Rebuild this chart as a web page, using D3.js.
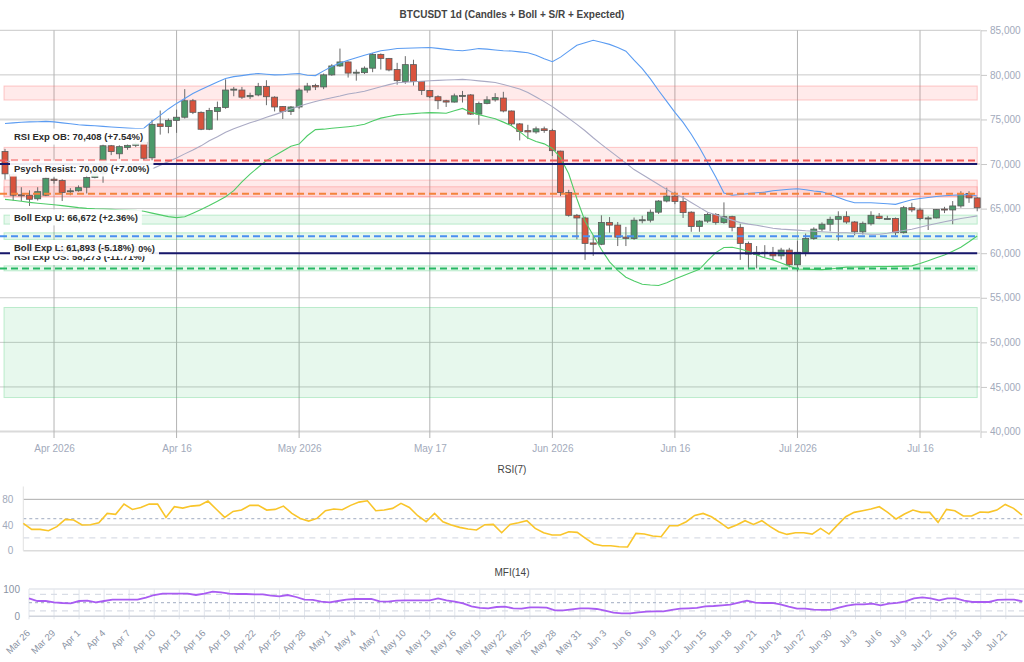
<!DOCTYPE html>
<html><head><meta charset="utf-8">
<script src="https://cdn.jsdelivr.net/npm/d3@7"></script>
<style>
body{margin:0;background:#fff;}
svg{display:block;font-family:"Liberation Sans",Arial,Helvetica,sans-serif;}
</style>
</head><body>
<svg id="chart" width="1024" height="662"></svg>
<script>
// ---------------- DATA ----------------
const startDate = "2026-03-26";
const opens  = [71400,68800,66550,66500,66100,66500,68300,68150,66900,67000,67400,68500,68900,72050,71150,71850,72100,72450,70700,74500,74200,74900,75250,77100,75800,73900,75900,76350,78300,78300,77550,77750,78700,77500,76450,75900,76400,78300,78800,78650,80000,81000,81450,80200,80250,80750,82300,81850,80600,79250,81150,79250,78250,77550,77100,76950,77650,77750,75600,76800,77200,77400,75950,74500,73750,73600,73950,73750,71450,66800,64250,63950,61150,61000,63450,63150,61800,61650,63700,63700,64600,65850,66400,65800,64600,63000,63600,64350,63450,64100,62900,61100,60100,60000,60100,59700,60350,58700,60100,61650,62700,63250,63800,64100,63500,62400,63300,64150,63850,63900,62300,65100,64850,63850,63950,64950,64850,65300,66700,66200];
const highs  = [71700,69000,67400,67050,67400,68450,68500,68300,67300,67600,68900,69100,72200,72150,72100,72250,72500,72700,74950,76000,75100,76100,78400,77300,75900,76300,77000,79500,78650,78650,78000,79100,79400,77600,76500,76500,78500,79100,79000,80150,81200,82950,81500,80600,80950,82450,82400,81900,81350,82100,81700,79300,78300,77700,77200,77900,78200,77850,77000,77600,77950,78100,76000,74600,74400,74200,74200,73950,71500,67100,64400,64100,62000,64250,64050,63500,62950,64000,64200,64900,65950,67350,66900,66400,64700,63700,64550,64500,65700,64200,63300,61300,60800,60900,60700,60600,60600,61400,62200,62900,63450,64100,64700,64700,63600,63550,64700,64500,64200,64000,65300,65650,65100,64150,64950,65200,65850,66950,66950,66300];
const lows   = [68250,65900,65850,65300,65900,66400,67800,65850,66500,66900,66700,68400,67900,71000,70600,71600,71900,70400,70400,73300,73450,73500,75100,75600,73800,73800,74900,76200,77600,77300,77300,77600,76600,75900,75050,75500,76200,78000,78300,78400,79900,80900,79700,79350,80100,80300,80600,80400,78900,79000,78800,77750,77400,76150,76400,76900,76900,75500,74400,76700,77000,75800,74300,72650,72800,73400,73500,70900,66400,64100,61550,59250,59700,60900,62300,60800,60800,61500,63350,63450,64400,65700,65500,63950,62400,62400,63400,63200,63300,62450,59250,58250,58300,59500,59250,59300,58400,57950,59650,61500,62450,62450,61400,63300,62000,62100,63100,63800,63800,62000,62200,64600,63700,62600,63900,64500,63250,65100,65650,64700];
const closes = [68900,66500,66450,66050,66900,68400,68150,66800,67000,67350,68500,68900,72050,71400,71950,72100,72300,70650,74450,74200,74900,75250,77100,75800,73900,76000,76350,78300,78400,77500,77700,78700,77550,76400,75900,76400,78300,78750,78650,80000,81000,81450,80200,80300,80750,82300,81850,80550,79350,81150,79250,78250,77550,77100,76950,77650,77700,75600,76800,77200,77450,75950,74500,73650,73600,73950,73750,71500,66800,64250,63950,61100,61000,63450,63150,61800,61650,63700,63750,64600,65850,66400,65800,64550,63000,63600,64350,63450,64100,62900,61100,59900,59850,60100,59700,60350,58700,60100,61650,62700,63250,63800,64100,63500,62400,63350,64250,63900,63900,62300,65100,64850,63900,63950,64900,64850,65300,66600,66200,65100];

const bollUpper = [74550,74620,74690,74730,74750,74780,74730,74620,74510,74400,74340,74290,74220,74150,74090,74030,73970,74010,74790,75460,76180,76800,77360,77920,78360,78780,79200,79590,79800,79920,80060,80160,80070,80000,80020,80090,80160,79960,79920,80450,80940,81330,81650,81930,82210,82460,82700,82820,82960,82990,83020,83050,83070,82970,82860,82760,82710,82820,82950,82890,82790,82710,82680,82580,82490,82210,81820,81480,81990,82660,83330,83600,83880,83660,83420,83060,82660,81650,80700,79550,78250,77020,75790,74670,73340,71850,70210,68540,66750,66500,66590,66680,66780,66850,67000,67090,67180,67220,67110,66980,66880,66590,66250,65920,65660,65660,65660,65600,65550,65480,65740,65990,66140,66250,66360,66440,66500,66540,66590,66420];
const bollMid   = [70300,70270,70210,70160,70110,70070,70020,69960,69890,69830,69800,69740,69690,69630,69590,69530,69480,69420,69460,69870,70270,70690,71140,71570,72040,72600,73060,73560,73950,74290,74620,74900,75240,75540,75850,76180,76490,76760,77020,77240,77430,77630,77860,77990,78160,78420,78660,78910,79120,79170,79230,79290,79340,79380,79420,79450,79500,79420,79330,79240,79140,78930,78670,78420,78030,77520,77000,76440,75780,75120,74450,73730,72950,72210,71500,70800,70100,69380,68820,68260,67700,67140,66640,66250,65690,65140,64600,64300,63990,63710,63430,63260,63130,62960,62790,62700,62640,62590,62510,62460,62400,62350,62290,62290,62230,62180,62120,62120,62230,62390,62550,62680,62910,63130,63330,63520,63710,63890,64040,64190];
const bollLower = [66040,65930,65820,65700,65600,65510,65430,65340,65220,65110,65030,64980,64960,64910,64880,64850,64810,64700,64490,64300,64100,63990,64080,64490,64910,65340,65830,66330,67010,68010,68870,69640,70380,70940,71470,72000,72240,73170,73860,73910,74020,74100,74190,74300,74470,74820,75150,75340,75510,75580,75650,75720,75770,75740,75700,75980,76240,75820,75540,75310,75090,74700,74290,73630,72910,72520,72260,71750,70690,68910,66110,63580,62010,60420,59030,58080,57310,56870,56520,56430,56370,56680,57100,57460,57830,58190,59160,60060,60640,60670,60460,60200,59810,59480,59250,58910,58550,58220,58200,58190,58160,58230,58340,58440,58450,58460,58480,58500,58510,58520,58550,58580,58850,59160,59480,59790,60220,60670,61280,61930];

const rsi7  = [42.5,33.2,33.2,31.1,37.4,48.8,47.7,40,40.5,43.6,58.1,56.6,72.6,64.3,67.4,72.6,72.6,51.9,68.5,66.4,69.5,70.6,77.3,64.5,51.9,61.2,63.3,70.6,70.6,63.3,64.3,69.5,58.1,50.3,46.2,50.3,62.3,64.9,63.8,70.6,75.7,77.8,62.3,63.3,65.9,73.7,67.4,54.5,45.1,58.1,45.1,39.9,36.3,33.7,32.2,40.5,41,28,41,43.6,46.7,34.8,28,24.4,24.4,29.6,28.5,19.2,10.4,7.8,7.8,6.2,5.7,27,25.9,22.8,21.8,38.9,38.9,45.1,55,58.1,52.9,44.1,34.8,39.9,46.7,41,46.7,37.4,29.6,25.4,28,28,25.9,34.8,25.9,39.9,52.9,59.7,62.3,64.9,68.5,59.7,49.3,57.1,63.3,59.7,59.7,44.1,64.3,62.3,54,54,60.2,59.7,63.3,72.1,65.9,55.5];
const mfi14 = [65.9,56,56,51.2,48.8,47.6,56,57.3,51.2,56,61,61,61,61,68.3,78,82.9,82.9,82.9,82.9,78,82.9,90.2,87.8,82.9,81.7,81.7,80.5,80.5,75.6,73.2,78,70.7,61,59.8,53.7,51.2,56,61,63.4,63.4,63.4,54.9,53.7,57.3,58.5,58.5,58.5,58.5,65.9,58.5,53.7,47.6,36.6,30.5,29.3,34.1,35.4,29.3,28,32.9,32.9,31.7,22,22,25.6,29.3,29.3,26.8,20.7,13.4,11,11,14.6,17.1,18.3,18.3,23.2,28,29.3,30.5,36.6,37.8,40.2,42.7,50,57.3,50,48.8,48.8,43.9,35.4,28,28,24.4,23.2,23.2,31.7,39,43.9,43.9,46.3,40.2,46.3,48.8,54.9,65.9,69.5,65.9,58.5,65.9,65.9,57.3,52.4,52.4,52.4,59.8,61,61,54.9];

const priceTicks = [40000,45000,50000,55000,60000,65000,70000,75000,80000,85000];
const mainTickDates  = ["2026-04-01","2026-04-16","2026-05-01","2026-05-17","2026-06-01","2026-06-16","2026-07-01","2026-07-16"];
const mainTickLabels = ["Apr 2026","Apr 16","May 2026","May 17","Jun 2026","Jun 16","Jul 2026","Jul 16"];
const rsiTicks = [0,40,80];
const mfiTicks = [0,100];
const rsiRefLevels = [50,20];
const mfiRefLevels = [80,50,20];

// S/R zones
const zoneLow  = [77180,70070,66320,66320,63260,61545,58020,43810];
const zoneHigh = [78750,71870,68200,67450,64270,62285,58580,53910];
const zoneKind = ["res","res","res","res","sup","sup","sup","sup"];

// expected / psychological levels
const levelValue = [58273,60000,61893,66672,70000,70408];
const levelKind  = ["rsiOS","psych","bollL","bollU","psych","rsiOB"];
const levelLabel = ["RSI Exp OS: 58,273 (-11.71%)","Psych Support: 60,000 (-8.00%)","Boll Exp L: 61,893 (-5.18%)","Boll Exp U: 66,672 (+2.36%)","Psych Resist: 70,000 (+7.00%)","RSI Exp OB: 70,408 (+7.54%)"];

// ---------------- LAYOUT / STYLE ----------------
const labelOffset = [-11.6,-5,11.6,23.7,4.5,-23.8]; // label centre vs line (px)
const levelStyle = {
  rsiOS:{color:"#27b864",dash:"7,4",w:2},
  psych:{color:"#17176b",dash:null,w:2},
  bollL:{color:"#4a8ff0",dash:"7,4",w:2},
  bollU:{color:"#f4843c",dash:"7,4",w:2},
  rsiOB:{color:"#f25a5a",dash:"7,4",w:2}
};
const zoneStyle = {
  res:{fill:"rgba(255,90,90,0.13)",stroke:"rgba(250,110,110,0.35)"},
  sup:{fill:"rgba(60,200,110,0.12)",stroke:"rgba(60,200,110,0.3)"}
};
const axisColor = "#a2aabb";

const svg = d3.select("#chart");
const parseDay = d3.utcParse("%Y-%m-%d");
const d0 = parseDay(startDate);
const dates = d3.utcDay.range(d0, d3.utcDay.offset(d0, opens.length));
const lastDate = dates[dates.length-1];

const xMain = d3.scaleUtc().domain([d0,lastDate]).range([5,977.2]);
const yMain = d3.scaleLinear().domain([40000,85000]).range([431.5,30.3]);
const xRsi  = d3.scaleUtc().domain([d0,lastDate]).range([23.3,1022]);
const yRsi  = d3.scaleLinear().domain([0,100]).range([550.7,486.5]);
const xMfi  = d3.scaleUtc().domain([d0,lastDate]).range([29,1022.5]);
const yMfi  = d3.scaleLinear().domain([0,100]).range([616.3,589]);

const plotRight = 981;

// title
svg.append("text").attr("x",512).attr("y",18).attr("text-anchor","middle")
  .attr("font-size","10px").attr("font-weight","bold").attr("fill","#444")
  .text("BTCUSDT 1d (Candles + Boll + S/R + Expected)");

// ---------- main panel grid ----------
const gGrid = svg.append("g");
gGrid.selectAll("line.h").data(priceTicks).join("line")
  .attr("x1",0).attr("x2",plotRight).attr("y1",d=>yMain(d)).attr("y2",d=>yMain(d))
  .attr("stroke",d=>(d===75000||d===40000)?"#dadada":"#c9c9c9")
  .attr("stroke-width",d=>(d===75000||d===40000)?2:1);
gGrid.selectAll("line.v").data(mainTickDates).join("line")
  .attr("x1",d=>xMain(parseDay(d))).attr("x2",d=>xMain(parseDay(d)))
  .attr("y1",yMain(85000)).attr("y2",438)
  .attr("stroke","#b4b4b4").attr("stroke-width",1);
svg.append("line").attr("x1",plotRight).attr("x2",plotRight).attr("y1",yMain(85000)).attr("y2",438)
  .attr("stroke","#e4e4e4").attr("stroke-width",2);

// right axis
const yAxis = svg.append("g").attr("transform",`translate(${plotRight},0)`)
  .call(d3.axisRight(yMain).tickValues(priceTicks).tickSize(6).tickPadding(3).tickFormat(d3.format(",")));
yAxis.select(".domain").remove();
yAxis.selectAll("line").attr("stroke","#c8c8c8");
yAxis.selectAll("text").attr("fill",axisColor).attr("font-size","10px").attr("font-family","Liberation Sans, Arial, sans-serif");

// bottom axis (main)
const xAxis = svg.append("g").attr("transform","translate(0,440)")
  .call(d3.axisBottom(xMain).tickValues(mainTickDates.map(parseDay)).tickSize(0).tickPadding(5)
    .tickFormat((d,i)=>mainTickLabels[i]));
xAxis.select(".domain").remove();
xAxis.selectAll("text").attr("fill",axisColor).attr("font-size","10px").attr("font-family","Liberation Sans, Arial, sans-serif");

// zones
const xz0 = xMain(d0)-1, xz1 = xMain(lastDate);
svg.append("g").selectAll("rect").data(zoneLow).join("rect")
  .attr("x",xz0).attr("width",xz1-xz0)
  .attr("y",(d,i)=>yMain(zoneHigh[i])).attr("height",(d,i)=>yMain(zoneLow[i])-yMain(zoneHigh[i]))
  .attr("fill",(d,i)=>zoneStyle[zoneKind[i]].fill)
  .attr("stroke",(d,i)=>zoneStyle[zoneKind[i]].stroke).attr("stroke-width",1);

// candles
const gC = svg.append("g");
const idx = d3.range(dates.length);
gC.selectAll("line").data(idx).join("line")
  .attr("x1",i=>xMain(dates[i])).attr("x2",i=>xMain(dates[i]))
  .attr("y1",i=>yMain(highs[i])).attr("y2",i=>yMain(lows[i]))
  .attr("stroke","#6a6a6a").attr("stroke-width",1);
gC.selectAll("rect").data(idx).join("rect")
  .attr("x",i=>xMain(dates[i])-3).attr("width",6)
  .attr("y",i=>yMain(Math.max(opens[i],closes[i])))
  .attr("height",i=>Math.max(1,Math.abs(yMain(opens[i])-yMain(closes[i]))))
  .attr("fill",i=>closes[i]>=opens[i]?"#4b9a6a":"#d9533d")
  .attr("stroke","#5a5a5a").attr("stroke-width",0.8);

// bollinger bands
const bandLine = arr => d3.line().x((d,i)=>xMain(dates[i])).y(d=>yMain(d))(arr);
svg.append("path").attr("d",bandLine(bollMid)).attr("fill","none").attr("stroke","#aaaac4").attr("stroke-width",1.1);
svg.append("path").attr("d",bandLine(bollUpper)).attr("fill","none").attr("stroke","#5b9cf2").attr("stroke-width",1.1);
svg.append("path").attr("d",bandLine(bollLower)).attr("fill","none").attr("stroke","#4fcc68").attr("stroke-width",1.1);

// levels
svg.append("g").selectAll("line").data(levelValue).join("line")
  .attr("x1",0).attr("x2",xz1)
  .attr("y1",d=>yMain(d)).attr("y2",d=>yMain(d))
  .attr("stroke",(d,i)=>levelStyle[levelKind[i]].color)
  .attr("stroke-width",(d,i)=>levelStyle[levelKind[i]].w)
  .attr("stroke-dasharray",(d,i)=>levelStyle[levelKind[i]].dash);

// labels
const gL = svg.append("g");
levelValue.forEach((v,i)=>{
  const cy = yMain(v)+labelOffset[i];
  const g = gL.append("g");
  const r = g.append("rect").attr("fill","#fff").attr("fill-opacity",0.92);
  const t = g.append("text").attr("x",14).attr("y",cy).attr("dy","0.35em")
    .attr("font-size","9.5px").attr("font-weight","bold").attr("fill","#2b2b2b").text(levelLabel[i]);
  const w = t.node().getComputedTextLength();
  r.attr("x",10).attr("y",cy-8).attr("width",w+8).attr("height",16);
});

// ---------- RSI panel ----------
svg.append("text").attr("x",512).attr("y",473).attr("text-anchor","middle")
  .attr("font-size","10px").attr("fill","#444").text("RSI(7)");
const rsiX0 = xRsi(d0), rsiX1 = 1024;
svg.append("g").selectAll("line").data(rsiTicks).join("line")
  .attr("x1",rsiX0).attr("x2",rsiX1).attr("y1",d=>yRsi(d)).attr("y2",d=>yRsi(d))
  .attr("stroke",d=>d===80?"#adadad":"#dcdcdc").attr("stroke-width",d=>d===80?1:1.6);
svg.append("g").selectAll("line").data(rsiRefLevels).join("line")
  .attr("x1",rsiX0).attr("x2",rsiX1).attr("y1",d=>yRsi(d)).attr("y2",d=>yRsi(d))
  .attr("stroke",d=>d===50?"#b3bccd":"#d9dde6").attr("stroke-width",1.3)
  .attr("stroke-dasharray",d=>d===50?"3,3":"6,5");
svg.append("line").attr("x1",rsiX0).attr("x2",rsiX0).attr("y1",yRsi(100)).attr("y2",yRsi(0))
  .attr("stroke","#e2e2e2").attr("stroke-width",1);
const rAxis = svg.append("g").attr("transform",`translate(${rsiX0},0)`)
  .call(d3.axisLeft(yRsi).tickValues(rsiTicks).tickSize(0).tickPadding(10));
rAxis.select(".domain").remove();
rAxis.selectAll("text").attr("fill",axisColor).attr("font-size","10px").attr("font-family","Liberation Sans, Arial, sans-serif");
svg.append("path").attr("d",d3.line().x((d,i)=>xRsi(dates[i])).y(d=>yRsi(d))(rsi7))
  .attr("fill","none").attr("stroke","#f9c52a").attr("stroke-width",1.6);

// ---------- MFI panel ----------
svg.append("text").attr("x",512).attr("y",576).attr("text-anchor","middle")
  .attr("font-size","10px").attr("fill","#444").text("MFI(14)");
const mfiX0 = xMfi(d0), mfiX1 = 1024;
const tickDates = dates.filter((d,i)=>i%3===0);
svg.append("g").selectAll("line").data(tickDates).join("line")
  .attr("x1",d=>xMfi(d)).attr("x2",d=>xMfi(d)).attr("y1",yMfi(100)).attr("y2",yMfi(0)+3)
  .attr("stroke","#e1e5ec").attr("stroke-width",1);
svg.append("g").selectAll("line").data(mfiTicks).join("line")
  .attr("x1",mfiX0).attr("x2",mfiX1).attr("y1",d=>yMfi(d)).attr("y2",d=>yMfi(d))
  .attr("stroke",d=>d===0?"#d0d4dc":"#e4e7ec").attr("stroke-width",1.6);
svg.append("g").selectAll("line").data(mfiRefLevels).join("line")
  .attr("x1",mfiX0).attr("x2",mfiX1).attr("y1",d=>yMfi(d)).attr("y2",d=>yMfi(d))
  .attr("stroke",d=>d===50?"#b3bccd":"#d9dde6").attr("stroke-width",1.3)
  .attr("stroke-dasharray",d=>d===50?"3,3":"6,5");
const mAxis = svg.append("g").attr("transform",`translate(${mfiX0},0)`)
  .call(d3.axisLeft(yMfi).tickValues(mfiTicks).tickSize(0).tickPadding(9));
mAxis.select(".domain").remove();
mAxis.selectAll("text").attr("fill","#8a93a4").attr("font-size","10px").attr("font-family","Liberation Sans, Arial, sans-serif");
svg.append("path").attr("d",d3.line().x((d,i)=>xMfi(dates[i])).y(d=>yMfi(d))(mfi14))
  .attr("fill","none").attr("stroke","#a95cf2").attr("stroke-width",1.8);

const fmt = d3.utcFormat("%b %-d");
const bAxis = svg.append("g").attr("transform",`translate(0,${yMfi(0)})`)
  .call(d3.axisBottom(xMfi).tickValues(tickDates).tickSize(0).tickFormat(fmt));
bAxis.select(".domain").remove();
bAxis.selectAll("text")
  .attr("font-size","9.5px").attr("fill","#8a93a4").attr("font-family","Liberation Sans, Arial, sans-serif")
  .attr("text-anchor","end").attr("dy","0.35em")
  .attr("transform","translate(-1,15) rotate(-45)").attr("y",0).attr("x",0);
</script>
</body></html>
